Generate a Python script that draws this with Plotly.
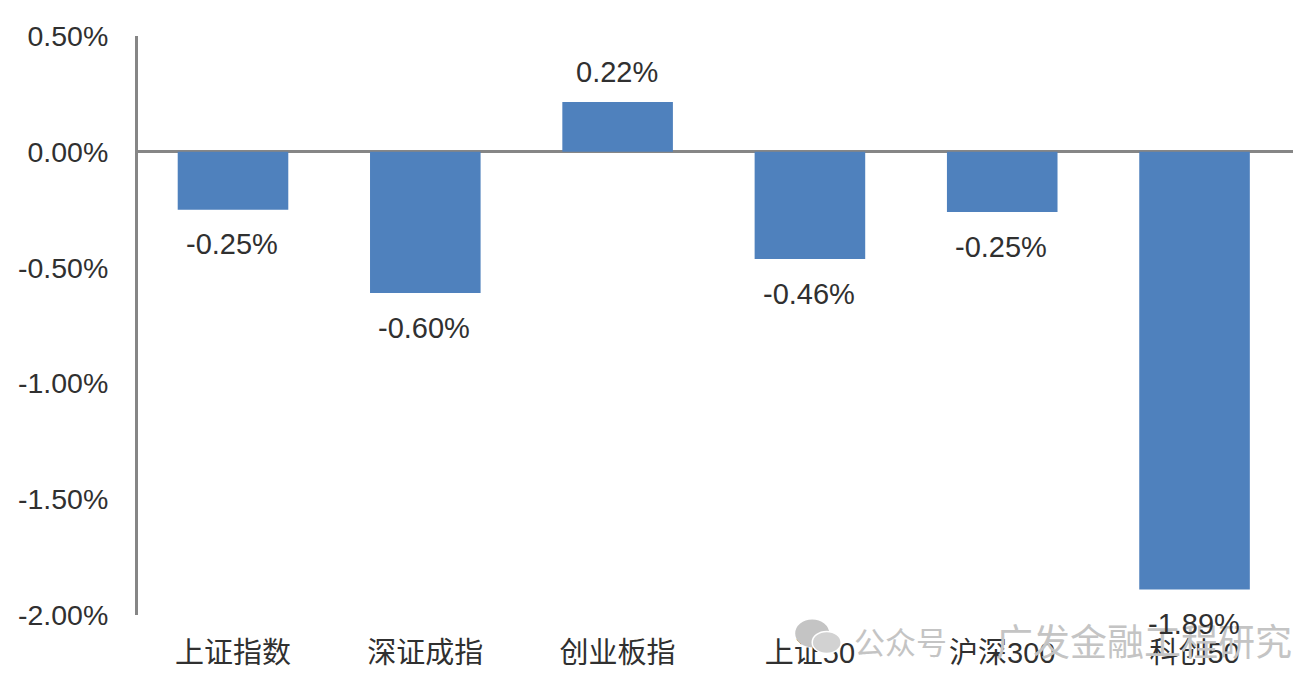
import plotly.graph_objects as go

categories = ["上证指数", "深证成指", "创业板指", "上证50", "沪深300", "科创50"]
values = [-0.25, -0.61, 0.215, -0.463, -0.26, -1.89]
labels = ["-0.25%", "-0.60%", "0.22%", "-0.46%", "-0.25%", "-1.89%"]
y_ticks = [0.5, 0, -0.5, -1, -1.5, -2]
y_tick_labels = ["0.50%", "0.00%", "-0.50%", "-1.00%", "-1.50%", "-2.00%"]

AXIS = "#868686"
TEXT = "#303030"
FONT = "Liberation Sans, Arial, Noto Sans CJK SC"
L, T, R, B = 137.5, 36, 9, 65.5
W = 1302 - L - R
H = 681 - T - B
px = lambda v: (v - L) / W
py = lambda v: (681 - B - v) / H

fig = go.Figure(go.Bar(x=categories, y=values, marker=dict(color="#4F81BD", line_width=0), width=0.575, hoverinfo="skip"))

annotations = [
    dict(xref="paper", yref="paper", x=px(852), y=py(641), xanchor="left", yanchor="middle",
         text="公众号", showarrow=False, font=dict(family="Noto Sans CJK SC", size=31, color="#c4c4c4")),
    dict(xref="paper", yref="paper", x=px(994), y=py(641), xanchor="left", yanchor="middle",
         text="广发金融工程研究", showarrow=False, font=dict(family="Noto Sans CJK SC", size=37, color="#c4c4c4")),
]
for c, v, t in zip(categories, values, labels):
    annotations.append(dict(x=c, y=v, text=t, showarrow=False, xanchor="center", yanchor="middle",
                            xshift=-1, yshift=30 if v > 0 else -34.5, font=dict(family=FONT, size=29, color=TEXT)))

shapes = [
    dict(type="circle", xref="paper", yref="paper", x0=px(795), x1=px(829),
         y0=py(648), y1=py(620), fillcolor="#c4c4c4", line_width=0, layer="above"),
    dict(type="circle", xref="paper", yref="paper", x0=px(812), x1=px(841),
         y0=py(654), y1=py(632), fillcolor="#d2d2d2", line=dict(color="white", width=1.5), layer="above"),
]

fig.update_layout(
    width=1302, height=681, margin=dict(l=L, r=R, t=T, b=B),
    paper_bgcolor="white", plot_bgcolor="white", showlegend=False,
    annotations=annotations, shapes=shapes,
    font=dict(family=FONT, color=TEXT),
    xaxis=dict(type="category", categoryorder="array", categoryarray=categories, range=[-0.494, 5.512],
               showgrid=False, showline=False, zeroline=False, ticks="outside", ticklen=12,
               tickcolor="rgba(0,0,0,0)", tickfont=dict(family=FONT, size=29, color=TEXT)),
    yaxis=dict(range=[-2, 0.5], tickmode="array", tickvals=y_ticks, ticktext=y_tick_labels,
               showgrid=False, showline=True, linecolor=AXIS, linewidth=3,
               zeroline=True, zerolinecolor=AXIS, zerolinewidth=3,
               ticks="outside", ticklen=21, tickcolor="rgba(0,0,0,0)",
               tickfont=dict(family=FONT, size=28.5, color=TEXT)),
)
fig.write_html("out.html", config=dict(displayModeBar=False), post_script="document.body.style.margin='0';")
